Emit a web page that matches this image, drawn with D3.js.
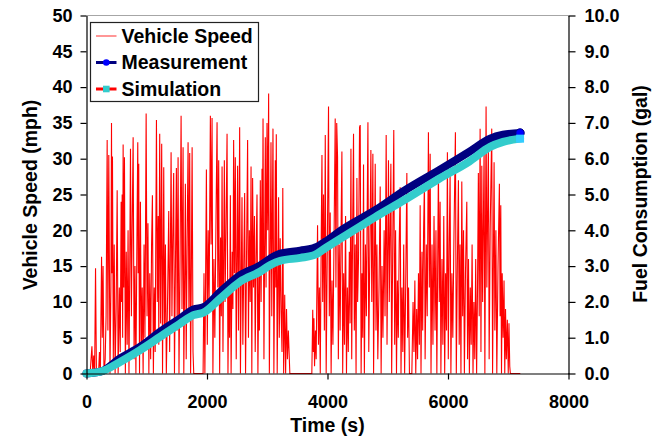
<!DOCTYPE html>
<html>
<head>
<meta charset="utf-8">
<script src="https://cdn.jsdelivr.net/npm/d3@7"></script>
<style>
  html, body { margin: 0; padding: 0; background: #ffffff; }
  svg { display: block; }
  text { font-family: "Liberation Sans", Arial, Helvetica, sans-serif; font-weight: bold; fill: #000; }
</style>
</head>
<body>
<svg id="chart" width="654" height="437"></svg>
<script>
// ---------- DATA ----------
const xTicks = [0, 2000, 4000, 6000, 8000];
const speedTicks = [0, 5, 10, 15, 20, 25, 30, 35, 40, 45, 50];
const fuelTicks = [0, 1, 2, 3, 4, 5, 6, 7, 8, 9, 10];

const seriesNames = ["Vehicle Speed", "Measurement", "Simulation"];

// Vehicle speed trace (time s, speed mph)
const speedTime = [
  0,60,90,105,120,135,150,165,200,215,230,250,262,275,290,310,325,343,355,370,390,405,415,422,431,445,460,475,492,509,
  525,545,560,575,583,592,600,608,618,630,645,660,675,690,705,718,730,745,760,774,790,805,820,838,851,858,867,880,895,910,
  925,940,955,970,990,1005,1020,1035,1050,1065,1080,1094,1110,1125,1140,1161,1175,1190,1200,1215,1230,1248,1262,1282,1295,1310,1325,1345,1365,1380,
  1404,1418,1432,1447,1460,1475,1492,1505,1520,1535,1552,1570,1585,1603,1615,1628,1641,1655,1670,1686,1700,1713,1728,1740,1753,1768,1780,1800,1935,1950,
  1965,1990,2005,2020,2035,2056,2068,2084,2098,2115,2130,2150,2167,2180,2194,2210,2225,2238,2250,2265,2288,2300,2315,2333,2348,2362,2375,2388,2400,2418,
  2430,2442,2455,2470,2485,2508,2522,2542,2555,2568,2581,2595,2610,2625,2640,2658,2674,2688,2703,2717,2731,2744,2757,2772,2788,2800,2815,2830,2845,2860,
  2870,2885,2898,2913,2920,2930,2945,2968,2980,2996,3008,3023,3035,3050,3062,3075,3095,3110,3123,3134,3142,3150,3165,3175,3188,3200,3215,3230,3245,3258,
  3272,3290,3305,3320,3335,3350,3375,3700,3740,3755,3765,3775,3785,3800,3812,3835,3850,3865,3880,3895,3908,3920,3934,3948,3963,3978,3995,4017,4030,4045,
  4060,4075,4090,4110,4128,4140,4153,4167,4180,4195,4210,4225,4239,4252,4268,4282,4300,4315,4330,4345,4362,4375,4389,4402,4417,4432,4445,4460,4474,4488,
  4500,4515,4532,4543,4558,4572,4585,4598,4612,4630,4645,4658,4671,4685,4700,4720,4735,4753,4765,4792,4805,4820,4835,4855,4875,4890,4905,4920,4940,4955,
  4974,4988,5012,5025,5052,5065,5080,5100,5115,5130,5145,5160,5175,5190,5206,5220,5235,5250,5265,5280,5300,5317,5330,5345,5360,5375,5400,5420,5435,5450,
  5465,5480,5495,5510,5525,5538,5552,5568,5580,5595,5609,5620,5640,5655,5675,5690,5704,5718,5735,5750,5768,5785,5800,5815,5841,5855,5869,5882,5900,5915,
  5930,5945,5960,5975,5990,6005,6020,6035,6048,6065,6080,6100,6123,6138,6155,6173,6186,6200,6215,6229,6243,6258,6272,6290,6312,6325,6340,6355,6370,6385,
  6400,6415,6430,6445,6460,6475,6490,6504,6518,6533,6547,6561,6575,6599,6612,6632,6645,6670,6683,6700,6726,6740,6765,6778,6795,6810,6830,6853,6865,6876,
  6888,6900,6915,6930,6942,6955,6968,6985,7000,7012,7025,7035,7200
];
const speedValue = [
  0,0,3.8,0,2.5,0,14.7,0,0,3,0,16.3,5,15,0,2,8,32.6,6,30.5,0,12,35,14,30.3,2,18,0,9,25.6,
  0,12,3,24,10,25,5,32,12,30.2,0,17,4,20,0,15,31.4,8,22,33,2,15,0,20,32.3,14,29.3,0,24,3,
  12,0,18,5,36.3,8,21,0,14,2,18,24.9,0,12,3,35.4,10,22,4,33.5,7,32.1,0,28.8,5,18,0,10,22.7,3,
  30.9,8,19,28,0,14,28.7,6,30.2,0,15,36,9,31.6,0,12,26.5,2,18,32.3,8,30.8,0,14,31.6,3,0,0,0,14,
  0,28.5,4,20,10,36,18,35.7,0,16,5,22,35.1,12,29.8,0,19,8,28.9,3,29.8,10,20,33.5,0,12,5,24.9,0,17,
  9,32.6,14,30.2,2,29,6,34.4,0,13,24.6,4,15,25.2,0,18,32.6,5,20,10,28.9,0,27.3,12,22,3,16,25,0,14,
  6,27,10,28.6,15,35.6,2,33,12,35,20,39.1,0,18,32.3,8,34.2,0,15,29.8,12,33.4,0,10,24.6,5,18.9,8.6,3,25.9,
  0,11,0,9,2,6,0,0,0,8.9,3,7.7,1,6,2,20.7,4,12,0,18,30.5,10,25,6,33.3,0,16,37.3,8,22.5,
  0,13,4,20,35.6,12,35,30.2,2,18,6,20,31,0,14,4,22,0,12,3,17,7,31.4,2,20,33.5,6,18,0,27.3,
  10,16,34.4,34.7,0,14,5,29.2,0,18,8,22,35.1,3,15,31.2,10,30.7,0,29.3,6,18,2,12,26.1,0,15,5,20,8,
  33.3,4,29.8,10,29.3,0,15,34,4,20,0,13,5,18,26,0,12,3,18,0,14,28,5,12,0,0,0,10,3,13,
  0,9,2,14,4,23.5,0,17,6,20,27,2,18,8,33.7,12,30.7,0,18,4,22,6,20,0,28.9,10,24,0,16,4,
  22,0,14,6,30.9,2,18,28,0,14,5,20,33.7,0,15,27,4,18,0,26.8,8,20,0,14,24,2,16,0,12,4,
  18,0,10,2,16,0,12,28,8,34.2,3,29,10,31.6,0,37.3,12,32.6,2,20,34.2,0,29.5,6,20,0,15,26.5,8,23.5,
  0,14,5,13,0,9,2,7.5,0,7,1,0,0
];

// Cumulative fuel consumption (gal)
const fuelTime = [0, 232, 564, 895, 1227, 1559, 1774, 1940, 2222, 2553, 2885, 3051, 3217, 3548, 3797, 3963, 4228, 4792, 5289, 5853, 6351, 6699, 6914, 7196];
const measuredFuel = [0, 0.05, 0.43, 0.75, 1.17, 1.54, 1.79, 1.85, 2.28, 2.75, 3.02, 3.21, 3.35, 3.43, 3.52, 3.68, 4.00, 4.56, 5.12, 5.68, 6.19, 6.56, 6.67, 6.72];
const simulatedFuel = [0, 0.05, 0.33, 0.66, 1.03, 1.40, 1.63, 1.70, 2.10, 2.57, 2.85, 3.03, 3.15, 3.23, 3.32, 3.50, 3.78, 4.37, 4.86, 5.44, 5.92, 6.33, 6.47, 6.56];

// ---------- CHART ----------
const svg = d3.select("#chart");
const pL = 86.5, pR = 568.5, pT = 15.5, pB = 373.5;

const x = d3.scaleLinear().domain([0, 8000]).range([pL, pR]);
const yS = d3.scaleLinear().domain([0, 50]).range([pB, pT]);
const yF = d3.scaleLinear().domain([0, 10]).range([pB, pT]);

const tickFont = "18px";
const titleFont = "19.5px";

// top border
svg.append("line")
  .attr("x1", pL).attr("x2", pR).attr("y1", pT).attr("y2", pT)
  .attr("stroke", "#a6a6a6").attr("stroke-width", 1.2);

// speed series
const speedData = speedTime.map((t, i) => [t, speedValue[i]]);
svg.append("path")
  .datum(speedData)
  .attr("fill", "none")
  .attr("stroke", "#ff0000")
  .attr("stroke-width", 1.1)
  .attr("stroke-linejoin", "miter")
  .attr("d", d3.line().x(d => x(d[0])).y(d => yS(d[1])));

// fuel series
const fuelLine = d3.line().curve(d3.curveMonotoneX).x(d => x(d[0])).y(d => yF(d[1]));
const measData = fuelTime.map((t, i) => [t, measuredFuel[i]]);
const simData = fuelTime.map((t, i) => [t, simulatedFuel[i]]);

svg.append("path").datum(measData)
  .attr("fill", "none").attr("stroke", "#000080").attr("stroke-width", 8)
  .attr("stroke-linecap", "round").attr("stroke-linejoin", "round")
  .attr("d", fuelLine);
svg.append("path").datum(simData)
  .attr("fill", "none").attr("stroke", "#33cccc").attr("stroke-width", 8)
  .attr("stroke-linecap", "round").attr("stroke-linejoin", "round")
  .attr("d", fuelLine);

// end markers
const mLast = measData[measData.length - 1];
svg.append("circle").attr("cx", x(mLast[0])).attr("cy", yF(mLast[1])).attr("r", 4.2)
  .attr("fill", "#0000ff").attr("stroke", "#000080").attr("stroke-width", 1);
const sLast = simData[simData.length - 1];
svg.append("rect").attr("x", x(sLast[0]) - 4).attr("y", yF(sLast[1]) - 4).attr("width", 8).attr("height", 8)
  .attr("fill", "#33ccff");

// axes
function styleAxis(g) {
  g.selectAll("path.domain").attr("stroke", "#000").attr("stroke-width", 1.2);
  g.selectAll(".tick line").attr("stroke", "#000").attr("stroke-width", 1.2);
  g.selectAll(".tick text").style("font-size", tickFont).style("font-weight", "bold")
    .style("font-family", "'Liberation Sans', Arial, sans-serif").attr("fill", "#000");
}

svg.append("g").attr("transform", `translate(${pL},0)`)
  .call(d3.axisLeft(yS).tickValues(speedTicks).tickSize(6).tickSizeOuter(0).tickPadding(8).tickFormat(d3.format("d")))
  .call(styleAxis);

svg.append("g").attr("transform", `translate(${pR},0)`)
  .call(d3.axisRight(yF).tickValues(fuelTicks).tickSize(7).tickSizeOuter(0).tickPadding(9).tickFormat(d3.format(".1f")))
  .call(styleAxis);

svg.append("g").attr("transform", `translate(0,${pB})`)
  .call(d3.axisBottom(x).tickValues(xTicks).tickSize(6).tickSizeOuter(0).tickPadding(16).tickFormat(d3.format("d")))
  .call(styleAxis);

// axis titles
svg.append("text").attr("transform", `translate(36.5,195) rotate(-90)`)
  .attr("text-anchor", "middle").style("font-size", titleFont).text("Vehicle Speed (mph)");
svg.append("text").attr("transform", `translate(646.5,194) rotate(-90)`)
  .attr("text-anchor", "middle").style("font-size", titleFont).text("Fuel Consumption (gal)");
svg.append("text").attr("x", (pL + pR) / 2).attr("y", 432)
  .attr("text-anchor", "middle").style("font-size", titleFont).text("Time (s)");

// legend
const lg = svg.append("g");
lg.append("rect").attr("x", 90.5).attr("y", 22.5).attr("width", 168).attr("height", 79)
  .attr("fill", "#fff").attr("stroke", "#222").attr("stroke-width", 1.2);
const rows = [36, 62.5, 89];
lg.append("line").attr("x1", 96).attr("x2", 116.5).attr("y1", rows[0]).attr("y2", rows[0])
  .attr("stroke", "#ff5050").attr("stroke-width", 1.2);
lg.append("line").attr("x1", 96).attr("x2", 116.5).attr("y1", rows[1]).attr("y2", rows[1])
  .attr("stroke", "#000080").attr("stroke-width", 3);
lg.append("circle").attr("cx", 106.3).attr("cy", rows[1]).attr("r", 3.3).attr("fill", "#0000ff");
lg.append("line").attr("x1", 96).attr("x2", 116.5).attr("y1", rows[2]).attr("y2", rows[2])
  .attr("stroke", "#ff0000").attr("stroke-width", 3);
lg.append("rect").attr("x", 103).attr("y", rows[2] - 3.3).attr("width", 6.6).attr("height", 6.6).attr("fill", "#33cccc");

seriesNames.forEach((n, i) => {
  lg.append("text").attr("x", 121.5).attr("y", rows[i] + 6.8).style("font-size", titleFont).text(n);
});
</script>
</body>
</html>
